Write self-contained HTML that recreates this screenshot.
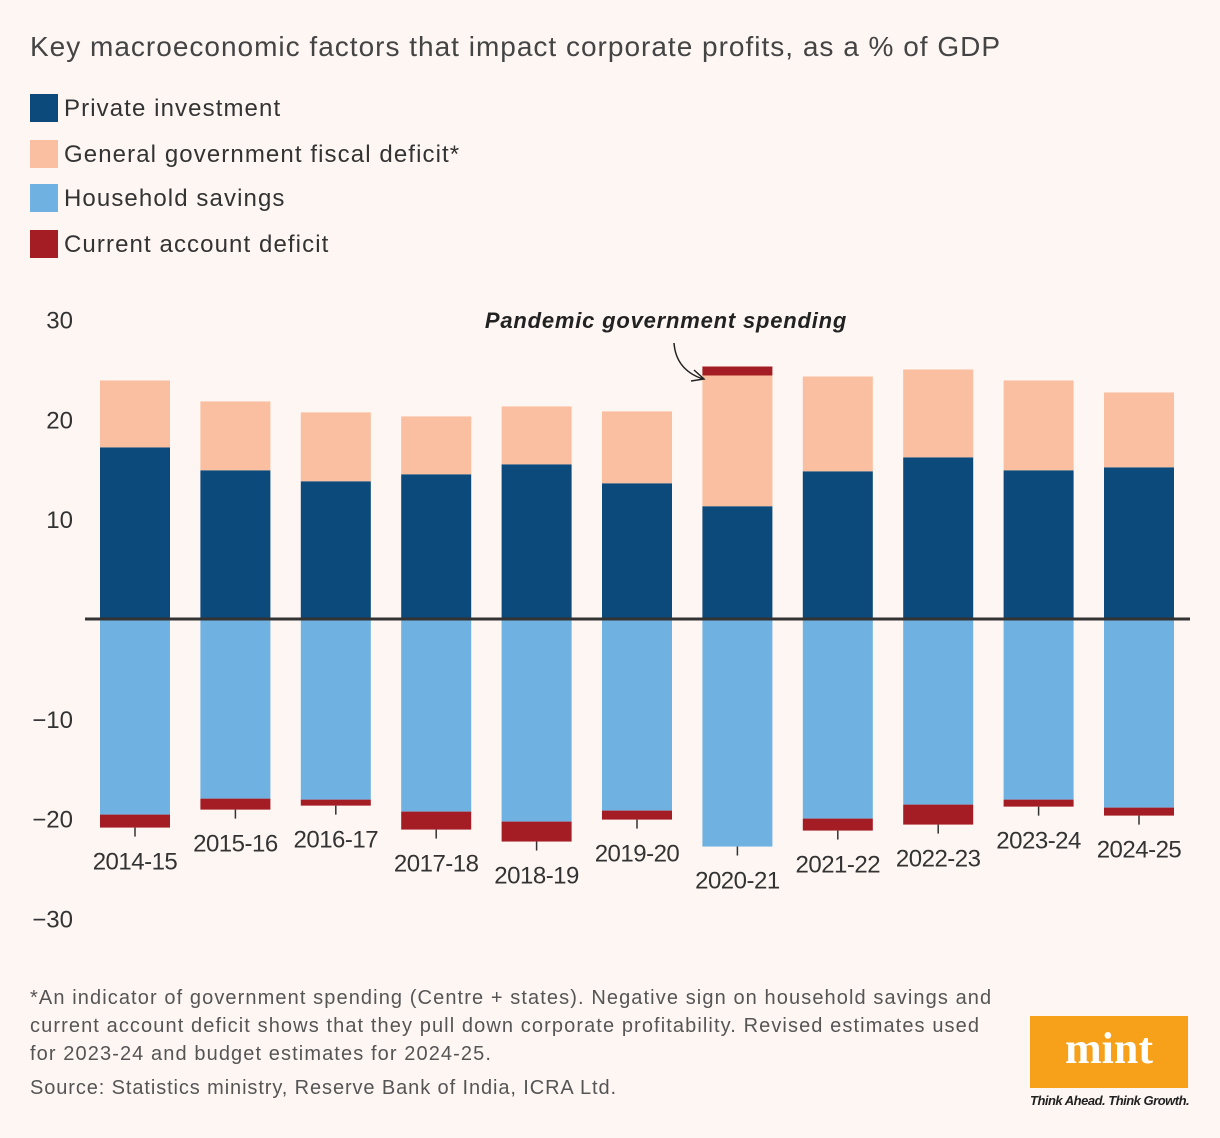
<!DOCTYPE html>
<html><head><meta charset="utf-8"><style>
body{margin:0;background:#fdf6f3;font-family:"Liberation Sans",sans-serif;}
#wrap{position:relative;width:1220px;height:1138px;overflow:hidden;background:#fdf6f3;}
.t{position:absolute;white-space:nowrap;color:#333;}
.lg{letter-spacing:1.1px}
</style></head><body>
<div id="wrap">
<div class="t" style="left:30px;top:31px;font-size:28px;color:#444;letter-spacing:1px;">Key macroeconomic factors that impact corporate profits, as a % of GDP</div>
<div>
<div class="t lg" style="left:30px;top:94px;font-size:24px;"><span style="display:inline-block;width:28px;height:28px;background:#0b4a7a;vertical-align:-6px;margin-right:6px"></span>Private investment</div>
<div class="t lg" style="left:30px;top:140px;font-size:24px;"><span style="display:inline-block;width:28px;height:28px;background:#f9bfa0;vertical-align:-6px;margin-right:6px"></span>General government fiscal deficit*</div>
<div class="t lg" style="left:30px;top:184px;font-size:24px;"><span style="display:inline-block;width:28px;height:28px;background:#6fb1e0;vertical-align:-6px;margin-right:6px"></span>Household savings</div>
<div class="t lg" style="left:30px;top:230px;font-size:24px;"><span style="display:inline-block;width:28px;height:28px;background:#a51d24;vertical-align:-6px;margin-right:6px"></span>Current account deficit</div>
</div>
<svg id="chart" width="1220" height="1138" style="position:absolute;left:0;top:0"></svg>
<div class="t" style="left:30px;top:984px;font-size:20px;color:#555;line-height:28px;letter-spacing:1.1px;">*An indicator of government spending (Centre + states). Negative sign on household savings and<br>current account deficit shows that they pull down corporate profitability. Revised estimates used<br>for 2023-24 and budget estimates for 2024-25.</div>
<div class="t" style="left:30px;top:1077px;font-size:20px;color:#555;letter-spacing:0.9px;">Source: Statistics ministry, Reserve Bank of India, ICRA Ltd.</div>
<div style="position:absolute;left:1030px;top:1016px;width:158px;height:72px;background:#f7a11a;color:#fff;font-family:'Liberation Serif',serif;font-weight:bold;font-size:44px;text-align:center;line-height:66px;">mint</div>
<div class="t" style="left:1030px;top:1093px;font-size:13px;font-style:italic;font-weight:bold;color:#222;letter-spacing:-0.5px">Think Ahead. Think Growth.</div>
</div>
<script>
const categories=["2014-15","2015-16","2016-17","2017-18","2018-19","2019-20","2020-21","2021-22","2022-23","2023-24","2024-25"];
const privateInvestment=[17.2,14.9,13.8,14.5,15.5,13.6,11.3,14.8,16.2,14.9,15.2];
const fiscalDeficit=[6.7,6.9,6.9,5.8,5.8,7.2,13.1,9.5,8.8,9.0,7.5];
const householdSavings=[-19.6,-18.0,-18.1,-19.3,-20.3,-19.2,-22.8,-20.0,-18.6,-18.1,-18.9];
const currentAccountDeficit=[-1.3,-1.1,-0.6,-1.8,-2.0,-0.9,0.9,-1.2,-2.0,-0.7,-0.8];
const yTicks=[30,20,10,-10,-20,-30];
const svg=document.getElementById('chart');const NS='http://www.w3.org/2000/svg';
const y=v=>619-v*9.98;
const x=i=>100+i*100.4;const bw=70;
function mk(t,a,p){const e=document.createElementNS(NS,t);for(const k in a)e.setAttribute(k,a[k]);(p||svg).appendChild(e);return e;}
yTicks.forEach(v=>{const t=mk('text',{x:73,y:y(v)+9,'text-anchor':'end','font-size':24,fill:'#333','font-family':'Liberation Sans, sans-serif'});t.textContent=v<0?'\u2212'+(-v):v;

});
categories.forEach((c,i)=>{
 const x0=x(i);
 const pi=privateInvestment[i],fd=fiscalDeficit[i],hh=householdSavings[i],ca=currentAccountDeficit[i];
 let r=mk('rect',{x:x0,y:y(pi),width:bw,height:y(0)-y(pi),fill:'#0b4a7a'});
 
 
 r=mk('rect',{x:x0,y:y(pi+fd),width:bw,height:y(pi)-y(pi+fd),fill:'#f9bfa0'});
 
 
 r=mk('rect',{x:x0,y:y(0),width:bw,height:y(hh)-y(0),fill:'#6fb1e0'});
 
 
 let bottom;
 if(ca>=0){r=mk('rect',{x:x0,y:y(pi+fd+ca),width:bw,height:y(pi+fd)-y(pi+fd+ca),fill:'#a51d24'});bottom=y(hh);}
 else{r=mk('rect',{x:x0,y:y(hh),width:bw,height:y(hh+ca)-y(hh),fill:'#a51d24'});bottom=y(hh+ca);}
 
 
 const cx=x0+bw/2;
 mk('line',{x1:cx,x2:cx,y1:bottom,y2:bottom+9,stroke:'#333','stroke-width':1.5});
 const t=mk('text',{x:cx,y:bottom+42,'text-anchor':'middle','font-size':24,fill:'#333','font-family':'Liberation Sans, sans-serif','letter-spacing':'-0.5'});
 t.textContent=c;
 
 
});
const zl=mk('line',{x1:85,x2:1190,y1:y(0),y2:y(0),stroke:'#333','stroke-width':3});


const an=mk('text',{x:666,y:328,'text-anchor':'middle','font-size':22,'font-weight':'bold','font-style':'italic',fill:'#222','font-family':'Liberation Sans, sans-serif','letter-spacing':'0.8'});
an.textContent='Pandemic government spending';


const ar=mk('path',{d:'M674 343 Q676 370 703 379 M694 370 L704 379 L691 381',fill:'none',stroke:'#222','stroke-width':1.5});


</script>
</body></html>
